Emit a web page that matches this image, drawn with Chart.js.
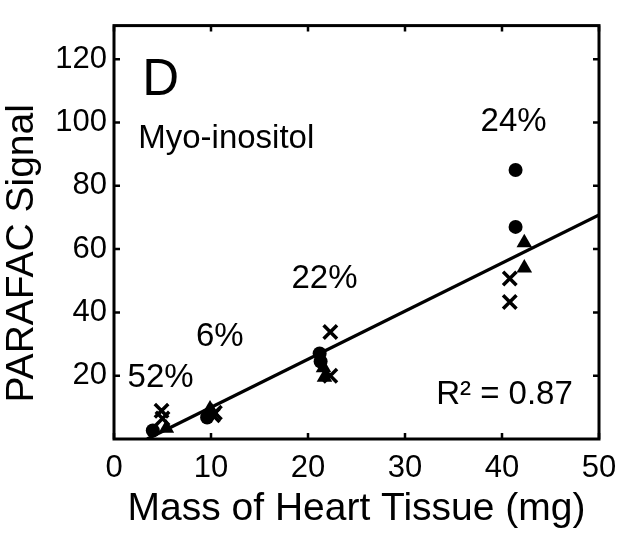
<!DOCTYPE html>
<html>
<head>
<meta charset="utf-8">
<script src="https://cdn.jsdelivr.net/npm/chart.js"></script>
<style>
  html, body { margin: 0; padding: 0; background: #fff; }
  #wrap { width: 624px; height: 538px; }
</style>
</head>
<body>
<div id="wrap"><canvas id="chart" width="624" height="538"></canvas></div>
<script>
// Mass of heart tissue (mg) vs PARAFAC signal, three replicate series
const circleX = [4.0, 9.6, 9.8, 21.2, 21.3, 41.4, 41.4];
const circleY = [2.7, 6.8, 7.8, 27.0, 24.5, 85.0, 67.0];
const triangleX = [5.4, 9.9, 10.1, 21.6, 21.7, 42.3, 42.3];
const triangleY = [3.4, 9.5, 8.5, 22.5, 19.5, 62.0, 54.0];
const crossX = [4.9, 5.0, 10.4, 10.2, 22.3, 22.3, 40.8, 40.8];
const crossY = [8.9, 6.5, 8.3, 7.5, 33.8, 20.0, 50.7, 43.3];

// linear fit shown on the plot
const fitSlope = 1.52;
const fitIntercept = -5.2;

const xTicks = [0, 10, 20, 30, 40, 50];
const yTicks = [20, 40, 60, 80, 100, 120];

const FONT = "'Liberation Sans', Arial, Helvetica, sans-serif";

function pts(xs, ys) {
    return xs.map((x, i) => ({ x: x, y: ys[i] }));
}

const fitStart = -fitIntercept / fitSlope;
const fitLine = [
    { x: fitStart, y: fitSlope * fitStart + fitIntercept },
    { x: 50, y: fitSlope * 50 + fitIntercept }
];

// texts placed in data coordinates
const notes = [
    { text: 'D', x: 2.9, y: 108.8, size: 51, align: 'left' },
    { text: 'Myo-inositol', x: 2.5, y: 92, size: 33, align: 'left' },
    { text: '24%', x: 41.2, y: 97.3, size: 33, align: 'center' },
    { text: '22%', x: 21.7, y: 47.6, size: 33, align: 'center' },
    { text: '6%', x: 10.9, y: 29.4, size: 33, align: 'center' },
    { text: '52%', x: 4.8, y: 16.4, size: 33, align: 'center' },
    { text: 'R² = 0.87', x: 47.3, y: 11.2, size: 33, align: 'right' }
];

const framePlugin = {
    id: 'frame',
    afterDatasetsDraw(chart) {
        const ctx = chart.ctx;
        const a = chart.chartArea;
        const xs = chart.scales.x;
        const ys = chart.scales.y;
        ctx.save();
        ctx.strokeStyle = '#000';
        // inner ticks on all four sides
        ctx.lineWidth = 2.5;
        ctx.beginPath();
        xTicks.forEach(v => {
            const px = xs.getPixelForValue(v);
            ctx.moveTo(px, a.bottom); ctx.lineTo(px, a.bottom - 6);
            ctx.moveTo(px, a.top); ctx.lineTo(px, a.top + 6);
        });
        yTicks.forEach(v => {
            const py = ys.getPixelForValue(v);
            ctx.moveTo(a.left, py); ctx.lineTo(a.left + 6, py);
            ctx.moveTo(a.right, py); ctx.lineTo(a.right - 6, py);
        });
        ctx.stroke();
        ctx.lineWidth = 3;
        ctx.strokeRect(a.left, a.top, a.right - a.left, a.bottom - a.top);

        // annotations
        ctx.fillStyle = '#000';
        ctx.textBaseline = 'alphabetic';
        notes.forEach(n => {
            ctx.font = n.size + 'px ' + FONT;
            ctx.textAlign = n.align;
            ctx.fillText(n.text, xs.getPixelForValue(n.x), ys.getPixelForValue(n.y));
        });

        // y axis title
        ctx.font = '39px ' + FONT;
        ctx.textAlign = 'center';
        ctx.translate(a.left - 81, (a.top + a.bottom) / 2 + 21);
        ctx.rotate(-Math.PI / 2);
        ctx.fillText('PARAFAC Signal', 0, 0);
        ctx.restore();
    }
};

new Chart(document.getElementById('chart'), {
    type: 'scatter',
    data: {
        datasets: [
            {
                label: 'Fit',
                type: 'line',
                data: fitLine,
                borderColor: '#000',
                borderWidth: 3.3,
                pointRadius: 0,
                fill: false,
                tension: 0
            },
            {
                label: 'Circles',
                data: pts(circleX, circleY),
                pointStyle: 'circle',
                pointRadius: 7,
                backgroundColor: '#000',
                borderColor: '#000',
                borderWidth: 0
            },
            {
                label: 'Triangles',
                data: pts(triangleX, triangleY),
                pointStyle: 'triangle',
                pointRadius: 9,
                backgroundColor: '#000',
                borderColor: '#000',
                borderWidth: 0
            },
            {
                label: 'Crosses',
                data: pts(crossX, crossY),
                pointStyle: 'crossRot',
                pointRadius: 9.5,
                backgroundColor: '#000',
                borderColor: '#000',
                borderWidth: 3.5
            }
        ]
    },
    options: {
        responsive: false,
        animation: false,
        events: [],
        layout: { padding: { top: 8, right: 25, left: 0, bottom: 0 } },
        plugins: {
            legend: { display: false },
            tooltip: { enabled: false }
        },
        scales: {
            x: {
                type: 'linear',
                min: 0,
                max: 50,
                grid: { display: false, drawTicks: false },
                border: { display: false },
                afterBuildTicks(scale) { scale.ticks = xTicks.map(v => ({ value: v })); },
                afterFit(scale) {
                    scale.height = 99;
                    scale.paddingRight = 0;
                    scale.paddingLeft = 0;
                },
                ticks: {
                    color: '#000',
                    padding: 11,
                    maxRotation: 0,
                    font: { family: FONT, size: 31 }
                },
                title: {
                    display: true,
                    text: 'Mass of Heart Tissue (mg)',
                    color: '#000',
                    font: { family: FONT, size: 39 },
                    padding: { top: 0, bottom: 5 }
                }
            },
            y: {
                type: 'linear',
                min: 0,
                max: 130.6,
                grid: { display: false, drawTicks: false },
                border: { display: false },
                afterBuildTicks(scale) { scale.ticks = yTicks.map(v => ({ value: v })); },
                afterFit(scale) { scale.width = 114; },
                ticks: {
                    color: '#000',
                    padding: 7,
                    font: { family: FONT, size: 31 }
                }
            }
        }
    },
    plugins: [framePlugin]
});
</script>
</body>
</html>
